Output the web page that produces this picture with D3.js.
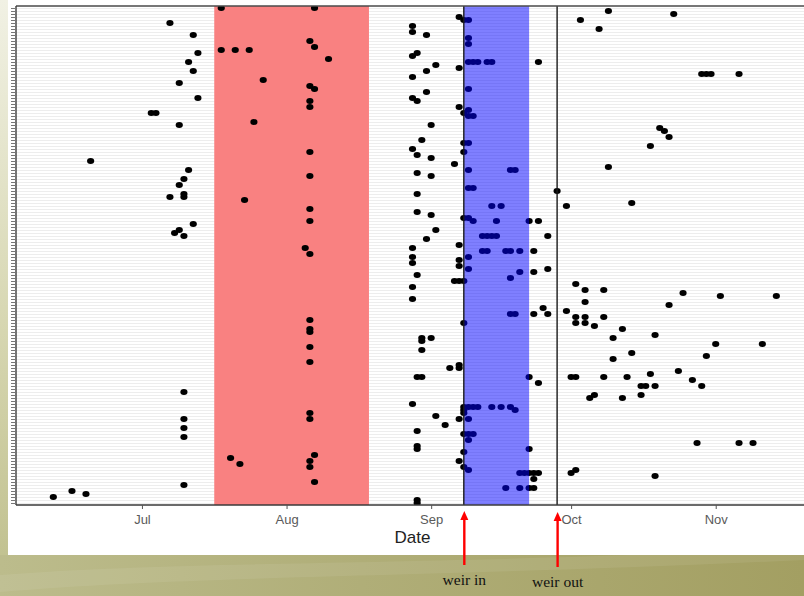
<!DOCTYPE html>
<html>
<head>
<meta charset="utf-8">
<script src="https://cdn.jsdelivr.net/npm/d3@7"></script>
<style>
  html, body { margin: 0; padding: 0; overflow: hidden; background: #fff; }
  svg { display: block; }
</style>
</head>
<body>
<svg id="chart" width="804" height="596"></svg>
<script>
// ---- data ---------------------------------------------------------------
const YEAR = 2012;
const dateExtent = ["06-04", "11-21"];
const monthTicks = ["07-01", "08-01", "09-01", "10-01", "11-01"];
const monthLabels = ["Jul", "Aug", "Sep", "Oct", "Nov"];
const fishCount = 166;

const redBand = ["07-16T12:00", "08-18T16:00"];
const weirBand = ["09-08T00:00", "09-22T00:00"];
const weirIn = "09-08T00:00";
const weirOut = "09-28T00:00";

// each row: [fish, detection dates...]
const summerFish = [
  [166, "07-18", "08-07"], [161, "07-07"], [157, "07-12"], [155, "08-06"],
  [153, "08-07"], [152, "07-18", "07-21", "07-24"], [151, "07-13"], [149, "08-10"],
  [148, "07-11"], [145, "07-12"], [142, "07-27"], [141, "07-09"], [140, "08-06"],
  [139, "08-07"], [136, "07-13"], [135, "08-06"], [133, "08-06"], [131, "07-03", "07-04"],
  [128, "07-25"], [127, "07-09"], [118, "08-06"], [115, "06-20"], [112, "07-11"],
  [110, "08-06"], [109, "07-10"], [107, "07-09"], [104, "07-10"], [103, "07-07", "07-10"],
  [102, "07-23"], [99, "08-06"], [95, "08-06"], [94, "07-12"], [92, "07-09"],
  [91, "07-08"], [90, "07-10"], [86, "08-05"], [84, "08-06"], [62, "08-06"],
  [59, "08-06"], [58, "08-06"], [53, "08-06"], [48, "08-06"], [38, "07-10"],
  [31, "08-06"], [29, "07-10", "08-06"], [26, "07-10"], [23, "07-10"], [17, "08-07"],
  [16, "07-20"], [15, "08-06"], [14, "07-22"], [13, "08-06"], [8, "08-07"],
  [7, "07-10"], [5, "06-16"], [4, "06-19"], [3, "06-12"]
];

const weirSeasonFish = [
  [163, "09-07"], [162, "09-08", "09-09"], [160, "08-28"], [158, "08-28"], [157, "08-31"],
  [156, "09-09"], [154, "09-09"], [151, "08-29"], [150, "08-28"],
  [148, "09-09", "09-10", "09-11", "09-13", "09-14", "09-24"], [147, "09-02"],
  [146, "09-07"], [145, "08-31"], [143, "08-28"], [139, "09-09"], [138, "08-31"],
  [136, "08-28"], [135, "08-29"], [133, "09-07"], [132, "09-09"], [131, "09-08"],
  [130, "09-09", "09-10"], [127, "09-01"], [122, "08-30"], [121, "09-08", "09-09"],
  [119, "08-28"], [118, "09-08"], [117, "08-29"], [116, "09-01"], [114, "09-06"],
  [112, "09-09", "09-18", "09-19"], [111, "08-29"], [110, "09-01"], [106, "09-09", "09-10"],
  [105, "09-28"], [104, "08-29"], [100, "09-14", "09-16", "09-30"], [98, "08-29"],
  [97, "09-01"], [96, "09-08", "09-09"], [95, "09-10", "09-15", "09-22", "09-24"],
  [92, "09-02"], [90, "09-12", "09-13", "09-14", "09-15", "09-26"], [89, "08-31"],
  [87, "09-07"], [86, "08-28"], [85, "09-12", "09-13", "09-17", "09-18", "09-20", "09-23"],
  [83, "08-28", "09-09"], [82, "09-07"], [81, "08-28"], [80, "09-07"], [79, "09-09", "09-26"],
  [78, "09-20", "09-23"], [77, "08-29"], [76, "09-18"], [75, "09-06", "09-07", "09-08"],
  [73, "08-28"], [69, "08-28"], [66, "09-25"], [65, "09-30"],
  [64, "09-18", "09-19", "09-23", "09-26"], [61, "09-08"], [56, "08-30", "09-01"],
  [55, "08-30"], [52, "08-30"], [47, "09-07"], [46, "09-05", "09-07"],
  [43, "08-29", "08-30", "09-22"], [41, "09-24"], [34, "08-28"],
  [33, "09-08", "09-09", "09-10", "09-11", "09-14", "09-16", "09-18"],
  [32, "09-08", "09-19"], [31, "09-08"], [30, "09-02"], [29, "09-07", "09-09"],
  [27, "09-04"], [25, "08-29"], [24, "09-08", "09-09", "09-10"], [22, "09-09"],
  [20, "08-29"], [19, "08-29", "09-22"], [18, "09-08"], [15, "09-07"], [13, "09-08"],
  [12, "09-09"], [11, "09-20", "09-21", "09-22", "09-23", "09-24"], [9, "09-23"],
  [6, "09-17", "09-20", "09-22", "09-23"], [2, "08-29"], [1, "08-29"]
];

const lateFish = [
  [165, "10-09"], [164, "10-23"], [162, "10-03"], [159, "10-07"],
  [144, "10-29", "10-30", "10-31", "11-06"], [126, "10-20"], [125, "10-21"],
  [123, "10-22"], [120, "10-18"], [113, "10-09"], [101, "10-14"], [74, "10-02"],
  [72, "10-04", "10-08"], [71, "10-25"], [70, "11-02", "11-14"], [68, "10-04"],
  [67, "10-22"], [63, "10-02", "10-04", "10-08"], [61, "10-02", "10-04"], [60, "10-06"],
  [59, "10-12"], [57, "10-19"], [56, "10-10"], [54, "11-01", "11-11"], [51, "10-14"],
  [50, "10-30"], [49, "10-10"], [45, "10-24"], [44, "10-18"],
  [43, "10-01", "10-02", "10-08", "10-13"], [42, "10-27"],
  [40, "10-16", "10-17", "10-19", "10-29"], [37, "10-06", "10-16"], [36, "10-05", "10-12"],
  [21, "10-28", "11-06", "11-09"], [12, "10-02"], [11, "10-01"], [10, "10-19"]
];

// ---- helpers ------------------------------------------------------------
const parseUTC = d3.utcParse("%Y-%m-%dT%H:%M");
const toDate = s => parseUTC(`${YEAR}-${s.includes("T") ? s : s + "T00:00"}`);

const detections = [summerFish, weirSeasonFish, lateFish]
  .flat()
  .flatMap(([fish, ...dates]) => dates.map(d => ({ fish, date: toDate(d) })));

// ---- layout -------------------------------------------------------------
const W = 804, H = 596;
const panel = { left: 16, top: 6, bottom: 505, right: 809 };

const svg = d3.select("#chart");
const defs = svg.append("defs");

const bgGrad = defs.append("linearGradient").attr("id", "slideBg")
  .attr("x1", "0").attr("y1", "0").attr("x2", "1").attr("y2", "0");
bgGrad.append("stop").attr("offset", "0").attr("stop-color", "#bcbc8c");
bgGrad.append("stop").attr("offset", "0.45").attr("stop-color", "#b0ae78");
bgGrad.append("stop").attr("offset", "1").attr("stop-color", "#a39f62");

const stripGrad = defs.append("linearGradient").attr("id", "stripBg")
  .attr("x1", "0").attr("y1", "0").attr("x2", "0").attr("y2", "1");
stripGrad.append("stop").attr("offset", "0").attr("stop-color", "#f1f1e4");
stripGrad.append("stop").attr("offset", "0.6").attr("stop-color", "#d6d6b0");
stripGrad.append("stop").attr("offset", "1").attr("stop-color", "#c2c291");

defs.append("clipPath").attr("id", "panelClip")
  .append("rect")
  .attr("x", panel.left).attr("y", panel.top)
  .attr("width", panel.right - panel.left).attr("height", panel.bottom - panel.top);

// slide background
svg.append("rect").attr("x", 0).attr("y", 0).attr("width", W).attr("height", H)
  .attr("fill", "url(#slideBg)");
svg.append("rect").attr("x", 0).attr("y", 0).attr("width", 8).attr("height", 555)
  .attr("fill", "url(#stripBg)");
svg.append("path")
  .attr("d", "M0,575 C200,560 420,566 804,548 L804,560 C420,578 200,575 0,592 Z")
  .attr("fill", "#ffffff").attr("opacity", 0.07);
// chart sheet
svg.append("rect").attr("x", 8).attr("y", 0).attr("width", W - 8).attr("height", 555)
  .attr("fill", "#ffffff");

// scales
const x = d3.scaleUtc()
  .domain(dateExtent.map(toDate))
  .range([panel.left, panel.right]);
const y = d3.scaleLinear()
  .domain([1, fishCount])
  .range([503, 8]);
const fishIds = d3.range(1, fishCount + 1);

const plot = svg.append("g").attr("clip-path", "url(#panelClip)");

// one faint grid line per fish
plot.append("g").selectAll("line")
  .data(fishIds)
  .join("line")
  .attr("x1", panel.left).attr("x2", panel.right)
  .attr("y1", d => Math.round(y(d)) + 0.5).attr("y2", d => Math.round(y(d)) + 0.5)
  .attr("stroke", "#ededed").attr("stroke-width", 1);

// closure period
plot.append("rect")
  .attr("x", x(toDate(redBand[0])))
  .attr("width", x(toDate(redBand[1])) - x(toDate(redBand[0])))
  .attr("y", panel.top).attr("height", panel.bottom - panel.top)
  .attr("fill", "#f98181");

// detections
plot.append("g").selectAll("ellipse")
  .data(detections)
  .join("ellipse")
  .attr("cx", d => x(d.date))
  .attr("cy", d => y(d.fish))
  .attr("rx", 3.6).attr("ry", 2.9)
  .attr("fill", "#000");

// weir operating period, translucent over the points
plot.append("rect")
  .attr("x", x(toDate(weirBand[0])))
  .attr("width", x(toDate(weirBand[1])) - x(toDate(weirBand[0])))
  .attr("y", panel.top).attr("height", panel.bottom - panel.top)
  .attr("fill", "#0000ff").attr("fill-opacity", 0.5);

// weir in / out markers
[weirIn, weirOut].forEach(s => {
  const xx = x(toDate(s));
  plot.append("line")
    .attr("x1", xx).attr("x2", xx)
    .attr("y1", panel.top).attr("y2", panel.bottom)
    .attr("stroke", "#1a1a1a").attr("stroke-width", 1.4);
});

// panel frame
svg.append("line").attr("x1", panel.left).attr("x2", W)
  .attr("y1", panel.top).attr("y2", panel.top)
  .attr("stroke", "#4a4a4a").attr("stroke-width", 1.6);

// y axis: tick for every fish, no labels
const yAxis = d3.axisLeft(y).tickValues(fishIds).tickSize(5).tickFormat("");
const gy = svg.append("g").attr("transform", `translate(${panel.left},0)`).call(yAxis);
gy.select(".domain").attr("stroke", "#3a3a3a").attr("stroke-width", 1.4)
  .attr("d", `M0,${panel.top}V${panel.bottom}`);
gy.selectAll(".tick")
  .attr("transform", d => `translate(0,${Math.round(y(d)) + 0.5})`);
gy.selectAll(".tick line").attr("stroke", "#777").attr("stroke-width", 1);

// x axis
const xAxis = d3.axisBottom(x)
  .tickValues(monthTicks.map(toDate))
  .tickFormat((d, i) => monthLabels[i])
  .tickSize(4).tickPadding(6);
const gx = svg.append("g").attr("transform", `translate(0,${panel.bottom})`).call(xAxis);
gx.select(".domain").attr("stroke", "#3a3a3a").attr("stroke-width", 1.4)
  .attr("d", `M${panel.left},0H${W}`);
gx.selectAll(".tick line").attr("stroke", "#555");
gx.selectAll(".tick text")
  .attr("font-family", "'Liberation Sans', Arial, sans-serif")
  .attr("font-size", 13).attr("fill", "#5a5a5a");

svg.append("text")
  .attr("x", (panel.left + panel.right) / 2).attr("y", 543)
  .attr("text-anchor", "middle")
  .attr("font-family", "'Liberation Sans', Arial, sans-serif")
  .attr("font-size", 17).attr("fill", "#222")
  .text("Date");

// annotation arrows
const notes = [
  { date: weirIn, label: "weir in", y0: 565, y1: 511, ty: 585 },
  { date: weirOut, label: "weir out", y0: 567, y1: 512, ty: 587 }
];
notes.forEach(n => {
  const xx = x(toDate(n.date)) + 0.5;
  svg.append("line")
    .attr("x1", xx).attr("x2", xx).attr("y1", n.y0).attr("y2", n.y1 + 7)
    .attr("stroke", "#ff0000").attr("stroke-width", 2.4);
  svg.append("path")
    .attr("d", `M${xx},${n.y1} L${xx - 4},${n.y1 + 9} L${xx + 4},${n.y1 + 9} Z`)
    .attr("fill", "#ff0000");
  svg.append("text")
    .attr("x", xx).attr("y", n.ty)
    .attr("text-anchor", "middle")
    .attr("font-family", "'Liberation Serif', 'DejaVu Serif', serif")
    .attr("font-size", 15.5).attr("fill", "#111")
    .text(n.label);
});
</script>
</body>
</html>
